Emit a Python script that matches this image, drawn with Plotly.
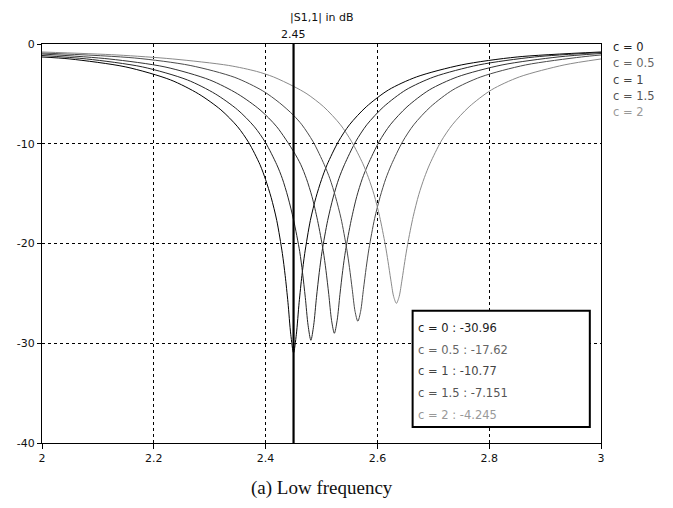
import plotly.graph_objects as go

# ---- data ----
series_names = ["c = 0", "c = 0.5", "c = 1", "c = 1.5", "c = 2"]

freq_c0 = [2.00, 2.05, 2.15, 2.23, 2.28, 2.32, 2.35, 2.37, 2.39, 2.40, 2.41, 2.42, 2.43, 2.435, 2.44, 2.445, 2.45,
           2.455, 2.46, 2.465, 2.47, 2.48, 2.49, 2.50, 2.51, 2.53, 2.55, 2.58, 2.62, 2.67, 2.75, 2.85, 3.00]
s11_c0 = [-1.3, -1.5, -2.3, -3.6, -5.0, -6.6, -8.3, -9.9, -12.1, -13.6, -15.4, -17.7, -21.0, -23.2, -25.9, -29.1, -30.96,
          -29.1, -25.9, -23.2, -21.0, -17.7, -15.4, -13.6, -12.1, -9.8, -8.1, -6.3, -4.6, -3.3, -2.1, -1.3, -0.8]

freq_c05 = [2.00, 2.08, 2.18, 2.26, 2.31, 2.35, 2.38, 2.40, 2.42, 2.43, 2.44, 2.45, 2.461, 2.466, 2.471, 2.476, 2.481,
            2.486, 2.491, 2.496, 2.501, 2.511, 2.521, 2.531, 2.541, 2.561, 2.581, 2.611, 2.651, 2.701, 2.781, 2.881, 3.00]
s11_c05 = [-1.15, -1.5, -2.3, -3.6, -5.0, -6.6, -8.3, -9.9, -12.1, -13.5, -15.35, -17.62, -20.8, -22.9, -25.4, -28.2, -29.7,
           -28.2, -25.4, -22.9, -20.8, -17.7, -15.35, -13.5, -12.1, -9.8, -8.1, -6.3, -4.6, -3.3, -2.1, -1.3, -0.85]

freq_c1 = [2.00, 2.12, 2.22, 2.30, 2.35, 2.39, 2.42, 2.45, 2.463, 2.473, 2.483, 2.493, 2.503, 2.508, 2.513, 2.518, 2.523,
           2.528, 2.533, 2.538, 2.543, 2.553, 2.563, 2.573, 2.583, 2.603, 2.623, 2.653, 2.693, 2.743, 2.823, 2.923, 3.00]
s11_c1 = [-1.0, -1.5, -2.3, -3.6, -5.0, -6.6, -8.3, -10.77, -12.1, -13.5, -15.3, -17.7, -20.7, -22.7, -25.1, -27.7, -29.0,
          -27.7, -25.1, -22.7, -20.7, -17.7, -15.3, -13.5, -12.1, -9.8, -8.1, -6.3, -4.6, -3.3, -2.1, -1.3, -0.95]

freq_c15 = [2.00, 2.165, 2.265, 2.345, 2.395, 2.425, 2.45, 2.465, 2.485, 2.505, 2.515, 2.525, 2.535, 2.545, 2.55, 2.555, 2.56,
            2.565, 2.57, 2.575, 2.58, 2.585, 2.595, 2.605, 2.615, 2.625, 2.645, 2.665, 2.695, 2.735, 2.785, 2.865, 2.965, 3.00]
s11_c15 = [-0.9, -1.4, -2.15, -3.35, -4.7, -5.9, -7.151, -8.1, -9.8, -12.1, -13.5, -15.3, -17.5, -20.5, -22.4, -24.6, -26.8,
           -27.8, -26.8, -24.6, -22.4, -20.5, -17.5, -15.3, -13.5, -12.1, -9.8, -8.1, -6.3, -4.6, -3.3, -2.1, -1.3, -1.1]

freq_c2 = [2.00, 2.134, 2.234, 2.334, 2.384, 2.414, 2.45, 2.474, 2.504, 2.534, 2.554, 2.574, 2.584, 2.594, 2.604, 2.614, 2.619,
           2.624, 2.629, 2.634, 2.639, 2.644, 2.649, 2.654, 2.664, 2.674, 2.684, 2.694, 2.714, 2.734, 2.764, 2.804, 2.854,
           2.934, 3.00]
s11_c2 = [-0.8, -1.1, -1.5, -2.15, -2.75, -3.3, -4.245, -5.0, -6.3, -8.1, -9.8, -12.0, -13.4, -15.1, -17.3, -20.1, -21.8,
          -23.65, -25.3, -26.0, -25.3, -23.65, -21.8, -20.1, -17.3, -15.1, -13.4, -12.0, -9.75, -8.1, -6.3, -4.6, -3.3,
          -2.1, -1.5]

marker_freq = 2.45
marker_values = ["-30.96", "-17.62", "-10.77", "-7.151", "-4.245"]

x_ticks = [2, 2.2, 2.4, 2.6, 2.8, 3]
x_ticktext = ["2", "2.2", "2.4", "2.6", "2.8", "3"]
y_ticks = [0, -10, -20, -30, -40]
y_ticktext = ["0", "-10", "-20", "-30", "-40"]

freqs = [freq_c0, freq_c05, freq_c1, freq_c15, freq_c2]
vals = [s11_c0, s11_c05, s11_c1, s11_c15, s11_c2]
line_colors = ["#000000", "#262626", "#333333", "#4a4a4a", "#8a8a8a"]
text_colors = ["#222222", "#666666", "#444444", "#555555", "#999999"]

fig = go.Figure()
for name, f, v, col in zip(series_names, freqs, vals, line_colors):
    fig.add_trace(go.Scatter(x=f, y=v, mode="lines", name=name,
                             line=dict(color=col, width=1, shape="spline", smoothing=0.8),
                             showlegend=False, hoverinfo="skip"))

font_ui = "DejaVu Sans"

# page body has an 8px margin: size the figure so it fits the 673x508 window
fig.update_layout(
    width=657, height=492,
    margin=dict(l=34, r=64, t=36, b=57, autoexpand=False),
    paper_bgcolor="white", plot_bgcolor="white",
    font=dict(family=font_ui, size=11, color="#111111"),
    xaxis=dict(range=[2, 3], tickvals=x_ticks, ticktext=x_ticktext, automargin=False,
               showgrid=True, gridcolor="#000000", griddash="3px,3px", gridwidth=1,
               showline=True, linecolor="#000000", linewidth=1, mirror=True,
               ticks="outside", ticklen=5, tickcolor="#000000",
               zeroline=False, tickfont=dict(size=11, family=font_ui)),
    yaxis=dict(range=[-40, 0], tickvals=y_ticks, ticktext=y_ticktext, automargin=False,
               showgrid=True, gridcolor="#000000", griddash="3px,3px", gridwidth=1,
               showline=True, linecolor="#000000", linewidth=1, mirror=True,
               ticks="outside", ticklen=4, tickcolor="#000000",
               zeroline=False, tickfont=dict(size=11, family=font_ui)),
)

# marker line
fig.add_shape(type="line", xref="x", yref="y", x0=marker_freq, x1=marker_freq, y0=-40, y1=0,
              line=dict(color="#000000", width=2.2), layer="above")
fig.add_annotation(x=marker_freq, y=0, xref="x", yref="y", text=str(marker_freq),
                   showarrow=False, yanchor="bottom", yshift=1, font=dict(size=11, family=font_ui))

# title
fig.add_annotation(x=0.5, y=1, xref="paper", yref="paper", text="|S1,1| in dB",
                   showarrow=False, yanchor="bottom", yshift=18, font=dict(size=11, family=font_ui))

# right-side legend text
for i, (name, col) in enumerate(zip(series_names, text_colors)):
    fig.add_annotation(x=1, y=0, xref="paper", yref="y", text=name, showarrow=False,
                       xanchor="left", yanchor="middle", xshift=10, yshift=-3 - 16.3 * i,
                       font=dict(size=11.5, family=font_ui, color=col))

# marker readout box
fig.add_shape(type="rect", xref="x", yref="y", x0=2.663, x1=2.98, y0=-38.4, y1=-26.75,
              fillcolor="white", line=dict(color="#000000", width=2), layer="above")
for i, (name, val, col) in enumerate(zip(series_names, marker_values, text_colors)):
    fig.add_annotation(x=2.663, y=-26.75, xref="x", yref="y", text=f"{name} : {val}",
                       showarrow=False, xanchor="left", yanchor="middle",
                       xshift=3, yshift=-17 - 21.7 * i,
                       font=dict(size=11.5, family=font_ui, color=col))

# caption
fig.add_annotation(x=0.5, y=0, xref="paper", yref="paper", text="(a) Low frequency",
                   showarrow=False, yanchor="middle", yshift=-45,
                   font=dict(size=19, family="Liberation Serif", color="#111111"))

fig.write_html("out.html")
